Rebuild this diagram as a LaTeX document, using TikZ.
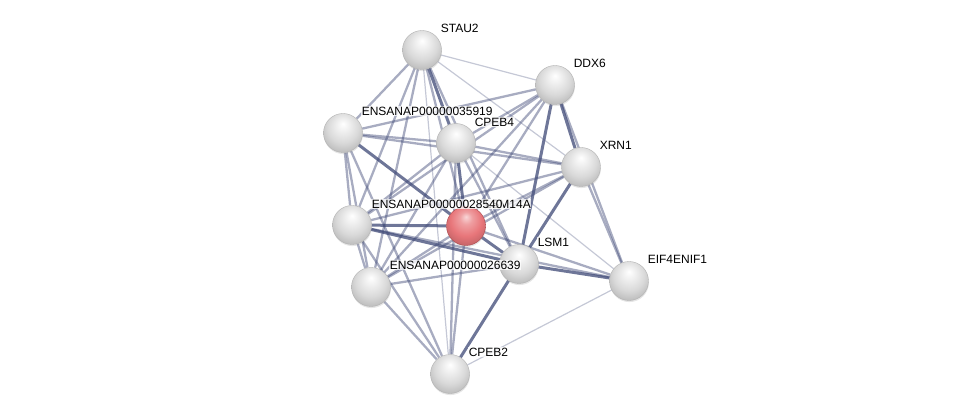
\documentclass[tikz,border=0pt]{standalone}
\usepackage{fontspec}
\newfontfamily\lblfont{Liberation Sans}
\usetikzlibrary{backgrounds,shadows}
\definecolor{edgecol}{RGB}{62,72,118}
\definecolor{rimgray}{RGB}{150,150,150}
\definecolor{redbody}{RGB}{232,118,122}
\definecolor{redrim}{RGB}{170,70,75}
\pgfdeclareradialshading{graysphere}{\pgfqpoint{0bp}{12bp}}{%
  color(0bp)=(white); color(8bp)=(white!94!black); color(20bp)=(white!85!black);
  color(30bp)=(white!74!black); color(36bp)=(rimgray); color(50bp)=(rimgray)}
\pgfdeclareradialshading{redsphere}{\pgfqpoint{0bp}{12bp}}{%
  color(0bp)=(white!70!redbody); color(8bp)=(white!30!redbody); color(20bp)=(redbody);
  color(30bp)=(redbody!85!black); color(36bp)=(redrim); color(50bp)=(redrim)}
\tikzset{
  ball/.style={circle, minimum size=39pt, inner sep=0pt, draw=gray!60, line width=0.4pt,
    shading=graysphere,
    drop shadow={opacity=0.2, shadow xshift=0.4pt, shadow yshift=-1.6pt}},
  query/.style={ball, shading=redsphere, draw=redrim},
  lbl/.style={anchor=west, font=\lblfont\fontsize{12}{14}\selectfont, inner sep=0.6pt,
    fill=white, fill opacity=0.75, text opacity=1},
  weak/.style={edgecol, line width=1.2pt, opacity=0.3},
  mid/.style={edgecol, line width=2.3pt, opacity=0.45},
  strong/.style={edgecol, line width=3pt, opacity=0.75}
}
\begin{document}
\begin{tikzpicture}[x=1pt, y=-1pt]
        \useasboundingbox (0,0) rectangle (976,419);

        % ==== PROTEINS ====
        \node[ball] (stau) at (422,50) {};
        \node[ball] (ddx) at (555,85) {};
        \node[ball] (e359) at (343,133) {};
        \node[ball] (cpebf) at (456,143) {};
        \node[ball] (xrn) at (581,167) {};
        \node[ball] (e285) at (352,225) {};
        \node[query] (lsmfa) at (466,226) {};
        \node[ball] (lsmo) at (519,264) {};
        \node[ball] (eif) at (629,281) {};
        \node[ball] (e266) at (371,287) {};
        \node[ball] (cpebt) at (450,374) {};

        % ==== INTERACTIONS ====
        \begin{scope}[on background layer]
        % STAU2
        \draw[weak] (stau) -- (ddx);
        \draw[weak] (stau) -- (xrn);
        \draw[mid] (stau) -- (e359);
        \draw[strong] (stau) -- (cpebf);
        \draw[mid] (stau) -- (e285);
        \draw[mid] (stau) -- (e266);
        \draw[mid] (stau) -- (lsmfa);
        \draw[mid] (stau) -- (lsmo);
        \draw[weak] (stau) -- (cpebt);
        % DDX6
        \draw[mid] (ddx) -- (e359);
        \draw[mid] (ddx) -- (cpebf);
        \draw[strong] (ddx) -- (xrn);
        \draw[strong] (ddx) -- (lsmo);
        \draw[mid] (ddx) -- (lsmfa);
        \draw[mid] (ddx) -- (e266);
        \draw[mid] (ddx) -- (e285);
        \draw[mid] (ddx) -- (eif);
        % ENSANAP00000035919
        \draw[mid] (e359) -- (cpebf);
        \draw[mid] (e359) -- (xrn);
        \draw[mid] (e359) -- (e285);
        \draw[strong] (e359) -- (lsmfa);
        \draw[mid] (e359) -- (e266);
        \draw[mid] (e359) -- (cpebt);
        % CPEB4
        \draw[mid] (cpebf) -- (xrn);
        \draw[strong] (cpebf) -- (lsmfa);
        \draw[mid] (cpebf) -- (lsmo);
        \draw[mid] (cpebf) -- (e285);
        \draw[mid] (cpebf) -- (e266);
        \draw[mid] (cpebf) -- (cpebt);
        \draw[weak] (cpebf) -- (eif);
        % XRN1
        \draw[mid] (xrn) -- (lsmfa);
        \draw[strong] (xrn) -- (lsmo);
        \draw[mid] (xrn) -- (e285);
        \draw[mid] (xrn) -- (e266);
        \draw[mid] (xrn) -- (eif);
        % LSM14A
        \draw[strong] (lsmfa) -- (e285);
        \draw[strong] (lsmfa) -- (lsmo);
        \draw[mid] (lsmfa) -- (e266);
        \draw[mid] (lsmfa) -- (cpebt);
        \draw[mid] (lsmfa) -- (eif);
        % LSM1
        \draw[strong] (lsmo) -- (e285);
        \draw[mid] (lsmo) -- (e266);
        \draw[strong] (lsmo) -- (cpebt);
        \draw[strong] (lsmo) -- (eif);
        % the rest
        \draw[mid] (e285) -- (e266);
        \draw[mid] (e285) -- (cpebt);
        \draw[mid] (e285) -- (eif);
        \draw[mid] (e266) -- (cpebt);
        \draw[weak] (cpebt) -- (eif);
        \end{scope}

        % ==== LABELS ====
        \node[lbl] (stau-l) at ([shift={(18,-22)}]stau) {STAU2};
        \node[lbl] (ddx-l) at ([shift={(18,-22)}]ddx) {DDX6};
        \node[lbl] (e359-l) at ([shift={(18,-22)}]e359) {ENSANAP00000035919};
        \node[lbl] (cpebf-l) at ([shift={(18,-21)}]cpebf) {CPEB4};
        \node[lbl] (xrn-l) at ([shift={(18,-22)}]xrn) {XRN1};
        \node[lbl] (lsmfa-l) at ([shift={(18,-22)}]lsmfa) {LSM14A};
        \node[lbl] (e285-l) at ([shift={(19,-21)}]e285) {ENSANAP00000028540};
        \node[lbl] (lsmo-l) at ([shift={(18,-22)}]lsmo) {LSM1};
        \node[lbl] (eif-l) at ([shift={(18,-22)}]eif) {EIF4ENIF1};
        \node[lbl] (e266-l) at ([shift={(18,-22)}]e266) {ENSANAP00000026639};
        \node[lbl] (cpebt-l) at ([shift={(18,-22)}]cpebt) {CPEB2};

\end{tikzpicture}
\end{document}
